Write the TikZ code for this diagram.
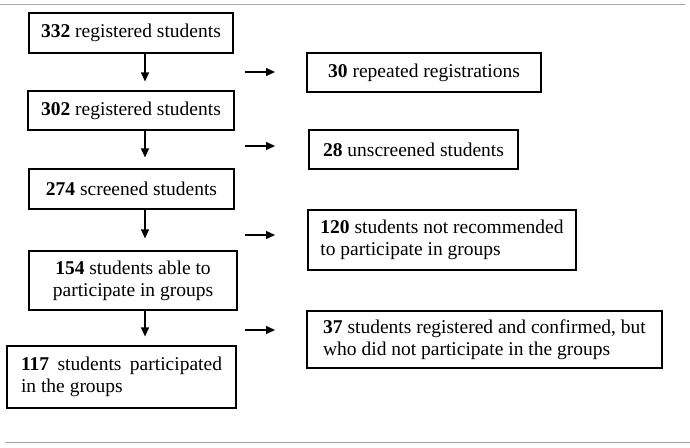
\documentclass[tikz,border=0pt]{standalone}
\usepackage{fontspec}
\setmainfont{Liberation Serif}
\usetikzlibrary{arrows.meta}
\begin{document}
\begin{tikzpicture}[x=1pt,y=-1pt,
  box/.style={draw, line width=1.2pt, inner sep=0pt, font=\fontsize{19.5}{22}\selectfont},
  arr/.style={line width=1.2pt, -{Triangle[length=9pt,width=8pt]}},
  rulestyle/.style={draw=gray!70, line width=0.9pt}]
\useasboundingbox (0,0) rectangle (690,447);
% gray rules
\coordinate (t0) at (0,4.5);
\coordinate (t1) at (685,4.5);
\coordinate (b0) at (5,442);
\coordinate (b1) at (690,442);
\draw[rulestyle] (t0) -- (t1);
\draw[rulestyle] (b0) -- (b1);
% left column
\node[box, minimum width=204pt, minimum height=40pt] (L1) at (131,33) {\textbf{332} registered students};
\node[box, minimum width=206pt, minimum height=39pt] (L2) at (131,110.5) {\textbf{302} registered students};
\node[box, minimum width=205pt, minimum height=40pt] (L3) at (131.5,189) {\textbf{274} screened students};
\node[box, minimum width=208pt, minimum height=59pt, align=center] (L4) at (133,280.5) {\textbf{154} students able to\\participate in groups};
\node[box, text width=201pt, inner xsep=14pt, minimum height=62pt, align=justify] (L5) at (121.5,377) {\textbf{117} students participated\linebreak in the groups};
% right column
\node[box, minimum width=234pt, minimum height=39pt] (R1) at (424,72.5) {\textbf{30} repeated registrations};
\node[box, minimum width=209pt, minimum height=39pt] (R2) at (413.5,149.5) {\textbf{28} unscreened students};
\node[box, minimum width=268pt, minimum height=60pt, align=left] (R3) at (442,240) {\textbf{120} students not recommended\\to participate in groups};
\node[box, minimum width=355pt, minimum height=57pt, align=left] (R4) at (484.5,339.5) {\textbf{37} students registered and confirmed, but\\who did not participate in the groups};
% vertical arrows
\coordinate (vx) at (145,0);
\draw[arr, shorten >=9pt] (L1.south -| vx) -- (L2.north -| vx);
\draw[arr, shorten >=11pt] (L2.south -| vx) -- (L3.north -| vx);
\draw[arr, shorten >=12pt] (L3.south -| vx) -- (L4.north -| vx);
\draw[arr, shorten >=9pt] (L4.south -| vx) -- (L5.north -| vx);
% horizontal arrows
\coordinate (h1s) at (245,72);  \coordinate (h1e) at (275,72);
\coordinate (h2s) at (245,146); \coordinate (h2e) at (275,146);
\coordinate (h3s) at (245,235); \coordinate (h3e) at (275,235);
\coordinate (h4s) at (245,330); \coordinate (h4e) at (275,330);
\draw[arr] (h1s) -- (h1e);
\draw[arr] (h2s) -- (h2e);
\draw[arr] (h3s) -- (h3e);
\draw[arr] (h4s) -- (h4e);
\end{tikzpicture}
\end{document}
